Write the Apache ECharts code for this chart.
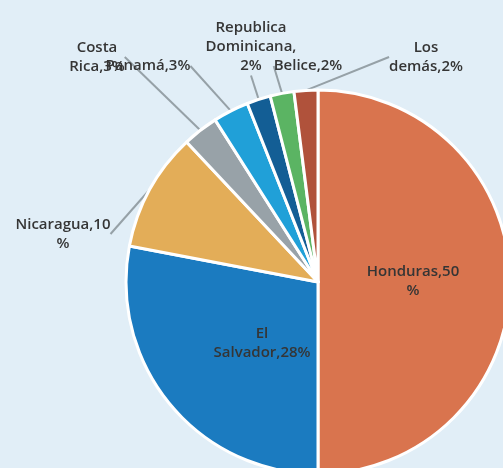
<!DOCTYPE html>
<html>
    <head>
        <meta http-equiv="Content-Type" content="text/html; charset=utf-8" />
        <title>pie-paises</title>
        <script type="text/javascript" src="https://cdn.jsdelivr.net/npm/echarts@6/dist/echarts.min.js"></script>
        <style>
            html, body { margin: 0; padding: 0; background: #e1eef7; }
        </style>
    </head>

    <body>
    	<div style="width:503px;height:468px;" id="pie"></div>
        <script type="text/javascript">
			// datos
			var paises = ['Honduras', 'El Salvador', 'Nicaragua', 'Costa Rica', 'Panamá', 'Republica Dominicana', 'Belice', 'Los demás'];
			var porcentajes = [50, 28, 10, 3, 3, 2, 2, 2];
			// texto de las etiquetas, con los saltos de linea del original
			var etiquetas = ['Honduras,50\n%', 'El\nSalvador,28%', 'Nicaragua,10\n%', 'Costa\nRica,3%', 'Panamá,3%', 'Republica\nDominicana,\n2%', 'Belice,2%', 'Los\ndemás,2%'];

			var colores = ['#d9744e', '#1b7bc0', '#e3ad58', '#98a2a8', '#20a0d8', '#135e95', '#5bb463', '#b0523b'];
			// posicion de cada etiqueta (px)
			var posEtiqueta = [[413, 281], [262, 343], [63, 234], [97, 57], [148, 66], [251, 47], [308, 66], [426, 57]];

			var myChart = echarts.init(document.getElementById('pie'));

			var datos = paises.map(function (p, i) {
				var d = {
					name: p,
					value: porcentajes[i],
					itemStyle: { color: colores[i] }
				};
				if (i < 2) {//las dos grandes van dentro
					d.label = { position: 'inside' };
					d.labelLine = { show: false };
				}
				return d;
			});

			var option = {
				backgroundColor: '#e1eef7',
				animation: false,
				series: [
					{
						type: 'pie',
						center: [318, 282],
						radius: 192,
						startAngle: 90,
						clockwise: true,
						data: datos,
						itemStyle: {
							borderColor: '#ffffff',
							borderWidth: 3
						},
						label: {
							show: true,
							position: 'outside',
							formatter: function (p) {
								return etiquetas[p.dataIndex];
							},
							color: '#353535',
							fontFamily: 'Open Sans',
							fontWeight: 600,
							fontSize: 15,
							lineHeight: 19,
							align: 'center'
						},
						labelLine: {
							show: true,
							length: 0,
							length2: 0,
							lineStyle: { color: '#96a1a7', width: 2 }
						},
						labelLayout: function (params) {
							var pos = posEtiqueta[params.dataIndex];
							return {
								x: pos[0],
								y: pos[1],
								align: 'center',
								verticalAlign: 'middle'
							};
						}
					}
				]
			};

			myChart.setOption(option);
		</script>
    </body>
</html>
